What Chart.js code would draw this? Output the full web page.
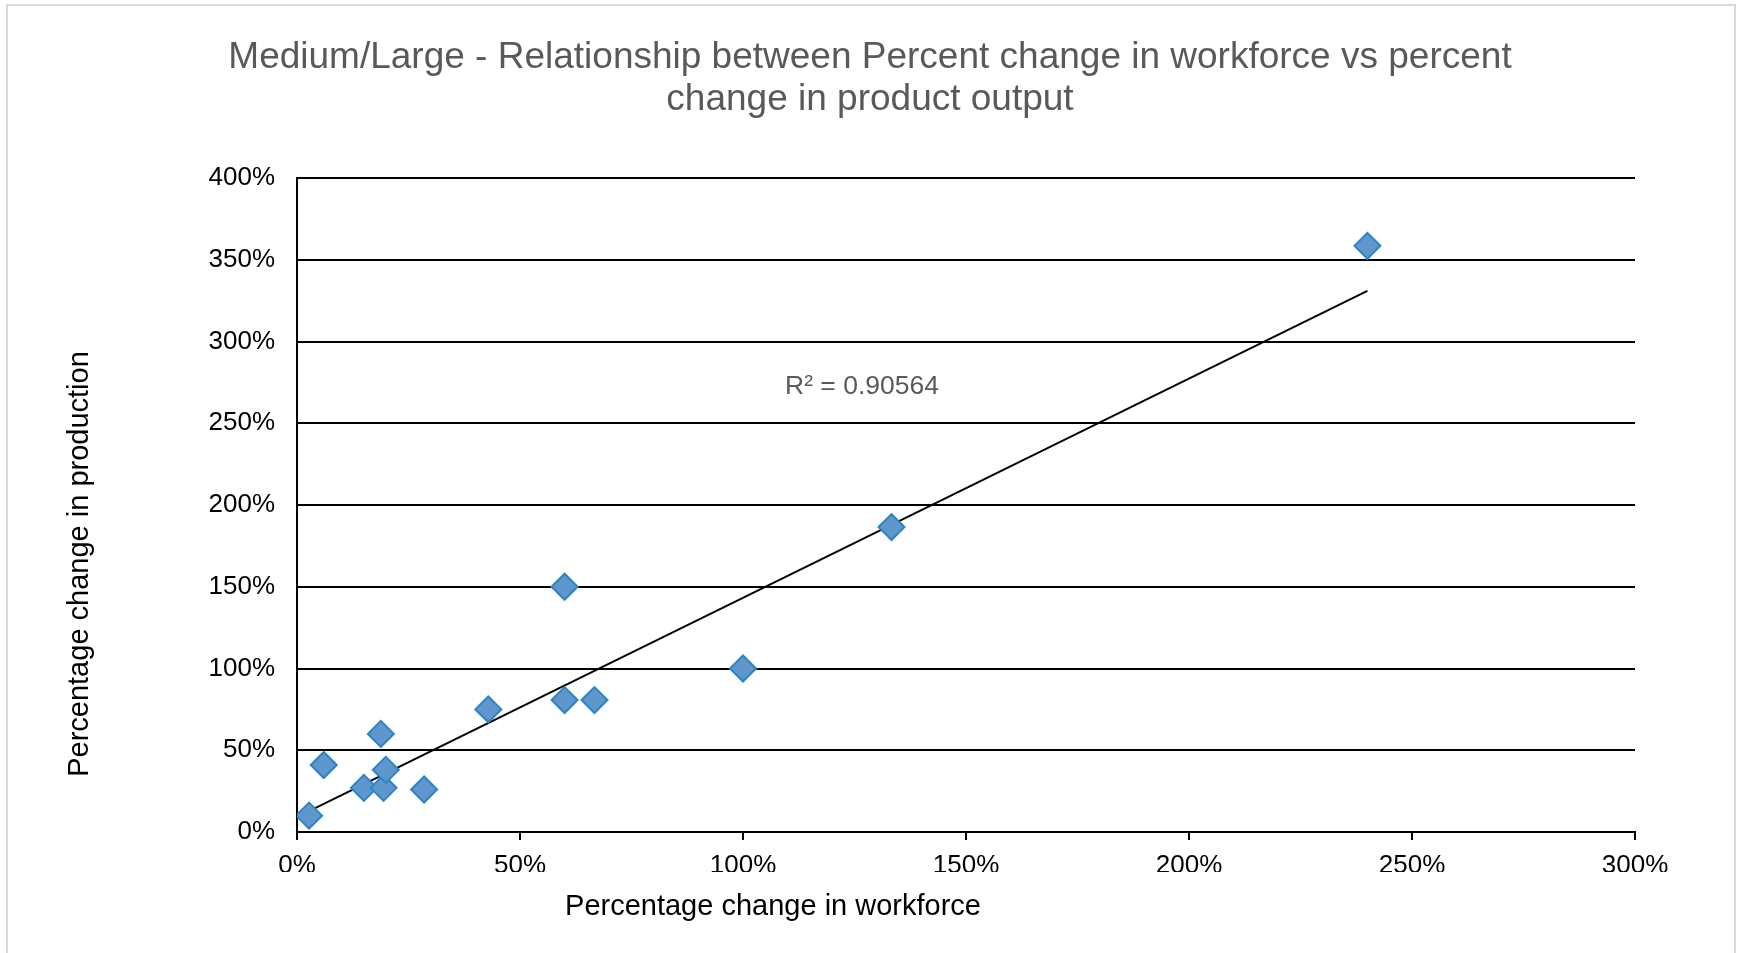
<!DOCTYPE html>
<html>
<head>
<meta charset="utf-8">
<script src="https://cdn.jsdelivr.net/npm/chart.js@4.4.1/dist/chart.umd.min.js"></script>
<style>
  html, body { margin: 0; padding: 0; background: #ffffff; }
  #wrap { width: 1739px; height: 953px; position: relative; }
  canvas { display: block; }
</style>
</head>
<body>
<div id="wrap"><canvas id="chart" width="1739" height="953"></canvas></div>
<script>
// Percentage change in workforce (x) and in production (y), one entry per company
const workforceChange  = [2.7, 6, 15, 18.8, 19.4, 19.9, 28.5, 42.9, 60, 60, 66.7, 100, 133.3, 240];
const productionChange = [10, 41, 27, 60, 27, 38, 26, 75, 80.7, 150, 80.7, 100, 186.5, 358.5];

// Linear trendline end points (x, y in percent)
const trendX = [2.7, 240];
const trendY = [12.8, 331];

// Axis tick values (percent)
const xTickValues = [0, 50, 100, 150, 200, 250, 300];
const yTickValues = [0, 50, 100, 150, 200, 250, 300, 350, 400];

// Text
const titleLines = [
  'Medium/Large - Relationship between Percent change in workforce vs percent',
  'change in product output'
];
const xAxisTitle = 'Percentage change in workforce';
const yAxisTitle = 'Percentage change in production';
const r2Label = 'R\u00B2 = 0.90564';

const FONT = '"Liberation Sans", Arial, Helvetica, sans-serif';

const points = workforceChange.map((x, i) => ({ x: x, y: productionChange[i] }));
const trend = trendX.map((x, i) => ({ x: x, y: trendY[i] }));

const decorations = {
  id: 'decorations',
  beforeDraw(chart) {
    const ctx = chart.ctx;
    ctx.save();
    ctx.fillStyle = '#ffffff';
    ctx.fillRect(0, 0, chart.width, chart.height);
    ctx.strokeStyle = '#d9d9d9';
    ctx.lineWidth = 2;
    ctx.strokeRect(7, 5, 1728, 960);
    ctx.restore();
  },
  afterDraw(chart) {
    const ctx = chart.ctx;
    ctx.save();
    // title
    ctx.fillStyle = '#595959';
    ctx.font = '37px ' + FONT;
    ctx.textAlign = 'center';
    ctx.textBaseline = 'middle';
    ctx.fillText(titleLines[0], 870, 58);
    ctx.fillText(titleLines[1], 870, 100);
    // trendline R² label
    ctx.font = '26.5px ' + FONT;
    ctx.fillText(r2Label, 862, 387);
    // axis titles
    ctx.fillStyle = '#000000';
    ctx.font = '29px ' + FONT;
    ctx.fillText(xAxisTitle, 773, 907);
    ctx.translate(80, 564);
    ctx.rotate(-Math.PI / 2);
    ctx.fillText(yAxisTitle, 0, 0);
    ctx.restore();
  }
};

new Chart(document.getElementById('chart'), {
  type: 'scatter',
  data: {
    datasets: [
      {
        label: 'Companies',
        data: points,
        pointStyle: 'rectRot',
        pointRadius: 13,
        pointHoverRadius: 13,
        backgroundColor: '#5f96cc',
        borderColor: '#2a84c6',
        borderWidth: 2,
        order: 1
      },
      {
        type: 'line',
        label: 'Linear trend',
        data: trend,
        borderColor: '#000000',
        borderWidth: 2,
        pointRadius: 0,
        fill: false,
        order: 2
      }
    ]
  },
  options: {
    responsive: false,
    animation: false,
    devicePixelRatio: 1,
    layout: { padding: { left: 0, top: 178, right: 104, bottom: 81 } },
    plugins: {
      legend: { display: false },
      title: { display: false },
      tooltip: { enabled: false }
    },
    scales: {
      x: {
        type: 'linear',
        min: 0,
        max: 300,
        afterFit(scale) { scale.height = 40; },
        afterBuildTicks(scale) { scale.ticks = xTickValues.map(v => ({ value: v })); },
        ticks: {
          color: '#000000',
          font: { family: FONT, size: 26 },
          padding: 10,
          maxRotation: 0,
          callback: v => v + '%'
        },
        grid: {
          drawOnChartArea: false,
          drawTicks: true,
          tickLength: 8,
          color: '#000000',
          lineWidth: 2
        },
        border: { display: true, color: '#000000', width: 2 }
      },
      y: {
        type: 'linear',
        min: 0,
        max: 400,
        afterFit(scale) { scale.width = 297; },
        afterBuildTicks(scale) { scale.ticks = yTickValues.map(v => ({ value: v })); },
        ticks: {
          color: '#000000',
          font: { family: FONT, size: 26 },
          padding: 22,
          callback: v => v + '%'
        },
        grid: {
          drawOnChartArea: true,
          drawTicks: false,
          color: '#000000',
          lineWidth: 2
        },
        border: { display: true, color: '#000000', width: 2 }
      }
    }
  },
  plugins: [decorations]
});
</script>
</body>
</html>
